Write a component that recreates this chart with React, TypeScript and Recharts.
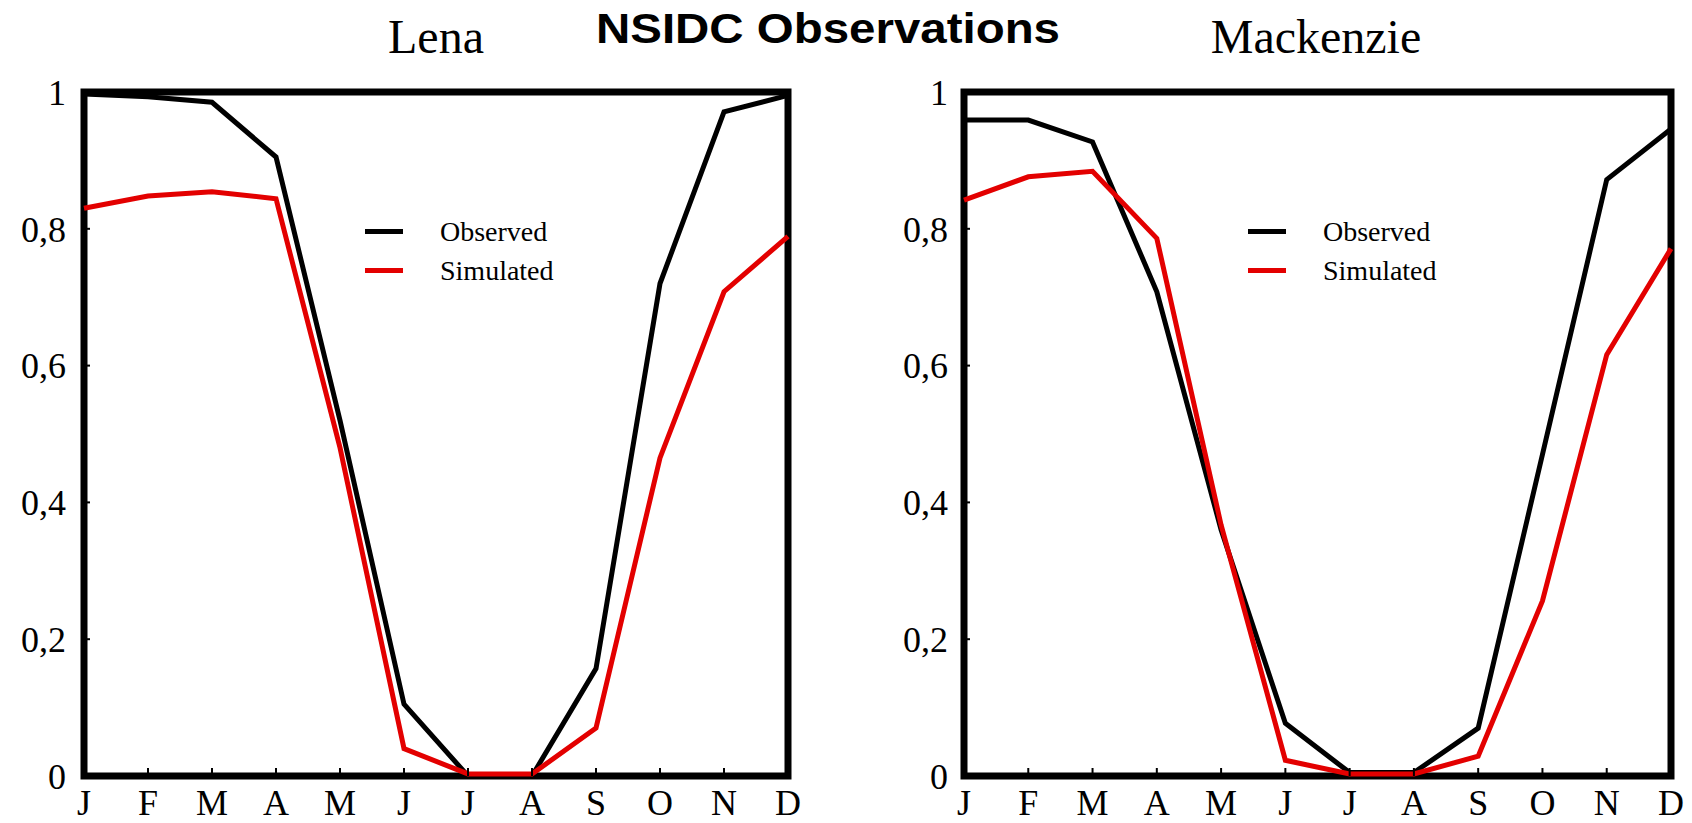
import { LineChart, Line, XAxis, YAxis, ReferenceArea, Legend } from "recharts"

const months = ["Jan", "Feb", "Mar", "Apr", "May", "Jun", "Jul", "Aug", "Sep", "Oct", "Nov", "Dec"]
const yTicks = [0, 0.2, 0.4, 0.6, 0.8, 1]

// Lena river
const lenaObserved = [0.997, 0.993, 0.985, 0.905, 0.52, 0.105, 0.0, 0.0, 0.157, 0.72, 0.971, 0.995]
const lenaSimulated = [0.83, 0.848, 0.854, 0.844, 0.48, 0.04, 0.003, 0.003, 0.07, 0.465, 0.708, 0.789]

// Mackenzie river
const mackObserved = [0.959, 0.959, 0.927, 0.708, 0.36, 0.077, 0.005, 0.005, 0.07, 0.47, 0.872, 0.946]
const mackSimulated = [0.842, 0.876, 0.884, 0.786, 0.367, 0.023, 0.003, 0.003, 0.029, 0.256, 0.616, 0.771]

const RED = "#e30000"
const SERIF = "Liberation Serif, Times New Roman, serif"

const buildData = (obs: number[], sim: number[]) =>
  months.map((m, i) => ({ month: m, observed: obs[i], simulated: sim[i] }))

const LegendBox = () => (
  <div style={{ fontFamily: SERIF, fontSize: 28, color: "#000" }}>
    {[
      ["Observed", "#000"],
      ["Simulated", RED],
    ].map(([name, color]) => (
      <div key={name} style={{ display: "flex", alignItems: "center", height: 39 }}>
        <div style={{ width: 38, height: 5, background: color }} />
        <span style={{ marginLeft: 37, lineHeight: "39px", whiteSpace: "nowrap" }}>{name}</span>
      </div>
    ))}
  </div>
)

type PanelProps = {
  obs: number[]
  sim: number[]
  left: number
  axisWidth: number
  rightMargin: number
  yTickMargin: number
  legendLeft: number
}

function Panel({ obs, sim, left, axisWidth, rightMargin, yTickMargin, legendLeft }: PanelProps) {
  const data = buildData(obs, sim)
  return (
    <div style={{ position: "absolute", left, top: 0 }}>
      <LineChart width={846} height={823} data={data} margin={{ top: 92, right: rightMargin, bottom: 0, left: 0 }}>
        <ReferenceArea x1="Jan" x2="Dec" y1={0} y2={1} fill="none" stroke="#000" strokeWidth={7} />
        <XAxis
          dataKey="month"
          scale="point"
          padding={{ left: 0, right: 0 }}
          interval={0}
          height={47}
          axisLine={false}
          tickSize={-8}
          tickMargin={21}
          tickLine={{ stroke: "#000", strokeWidth: 2 }}
          tickFormatter={(m: string) => m[0]}
          tick={{ fill: "#000", fontSize: 36, fontFamily: SERIF }}
        />
        <YAxis
          domain={[0, 1]}
          ticks={yTicks}
          width={axisWidth}
          axisLine={false}
          tickSize={-6}
          tickMargin={yTickMargin}
          tickLine={{ stroke: "#000", strokeWidth: 2 }}
          tickFormatter={(v: number) => String(v).replace(".", ",")}
          tick={{ fill: "#000", fontSize: 36, fontFamily: SERIF }}
        />
        <Legend
          layout="vertical"
          align="center"
          verticalAlign="middle"
          content={<LegendBox />}
          wrapperStyle={{ top: 212, left: legendLeft, width: 220 }}
        />
        <Line type="linear" dataKey="observed" stroke="#000" strokeWidth={5} dot={false} isAnimationActive={false} />
        <Line type="linear" dataKey="simulated" stroke={RED} strokeWidth={5} dot={false} isAnimationActive={false} />
      </LineChart>
    </div>
  )
}

export default function App() {
  return (
    <div style={{ position: "absolute", left: 0, top: 0, width: 1692, height: 823, background: "#fff", overflow: "hidden" }}>
      <Panel obs={lenaObserved} sim={lenaSimulated} left={0} axisWidth={84} rightMargin={58} yTickMargin={24} legendLeft={365} />
      <Panel obs={mackObserved} sim={mackSimulated} left={846} axisWidth={118} rightMargin={21} yTickMargin={22} legendLeft={402} />
      <svg width={1692} height={823} style={{ position: "absolute", left: 0, top: 0, pointerEvents: "none" }}>
        <text x={436} y={53} textAnchor="middle" fontFamily={SERIF} fontSize={48} fill="#000">
          Lena
        </text>
        <text x={1316} y={53} textAnchor="middle" fontFamily={SERIF} fontSize={48} fill="#000">
          Mackenzie
        </text>
        <text
          x={596}
          y={43}
          fontFamily="Liberation Sans, Arial, sans-serif"
          fontWeight="bold"
          fontSize={42}
          textLength={464}
          lengthAdjust="spacingAndGlyphs"
          fill="#000"
        >
          NSIDC Observations
        </text>
      </svg>
    </div>
  )
}
